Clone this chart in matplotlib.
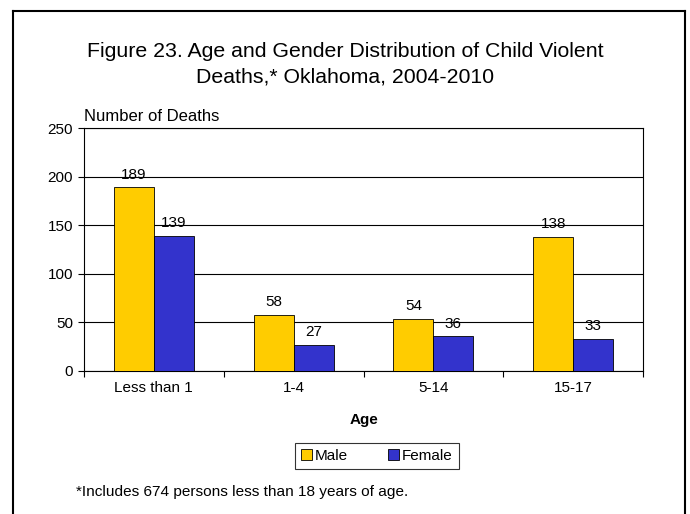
import numpy as np
import matplotlib.pyplot as plt

plt.rcParams['font.family'] = ['Liberation Sans', 'DejaVu Sans']

# donnees
ages = ['Less than 1', '1-4', '5-14', '15-17']
male = [189, 58, 54, 138]
female = [139, 27, 36, 33]
yticks = [0, 50, 100, 150, 200, 250]

fig = plt.figure(figsize=(6.9, 5.14), dpi=100)
W, H = 690, 514

# cadre autour de la figure (bas ouvert)
fig.add_artist(plt.Line2D([13 / W, 13 / W], [0, 1 - 11 / H], color='black', lw=1.5))
fig.add_artist(plt.Line2D([13 / W, 685 / W], [1 - 11 / H, 1 - 11 / H], color='black', lw=1.5))
fig.add_artist(plt.Line2D([685 / W, 685 / W], [0, 1 - 11 / H], color='black', lw=1.5))

ax = fig.add_axes([84 / W, 1 - 371 / H, (643 - 84) / W, (371 - 128) / H])

x = np.arange(len(ages))
w = 0.286
bars_m = ax.bar(x - w / 2, male, w, color='#FFCC00', edgecolor='black', linewidth=0.6, label='Male', zorder=3)
bars_f = ax.bar(x + w / 2, female, w, color='#3333CC', edgecolor='black', linewidth=0.6, label='Female', zorder=3)

# etiquettes des valeurs
for bars, vals in [(bars_m, male), (bars_f, female)]:
    for b, v in zip(bars, vals):
        ax.annotate(str(v), (b.get_x() + b.get_width() / 2, v), xytext=(0, 9),
                    textcoords='offset points', ha='center', va='center', fontsize=11, zorder=4)

ax.set_xlim(-0.5, len(ages) - 0.5)
ax.set_ylim(0, 250)
ax.set_yticks(yticks)
ax.yaxis.grid(True, color='black', lw=0.8, zorder=0)
ax.tick_params(axis='y', labelsize=11, length=4, width=0.8, pad=4)

# ticks x aux limites des categories, etiquettes au centre
ax.set_xticks(np.arange(len(ages) + 1) - 0.5)
ax.set_xticklabels([])
ax.set_xticks(x, minor=True)
ax.set_xticklabels(ages, minor=True, fontsize=11)
ax.tick_params(axis='x', which='major', length=4, width=0.8)
ax.tick_params(axis='x', which='minor', length=0, pad=7)

for s in ax.spines.values():
    s.set_linewidth(0.8)

ax.set_xlabel('Age', fontsize=11, fontweight='bold', labelpad=13)
ax.text(0, 1.015, 'Number of Deaths', transform=ax.transAxes, fontsize=12, ha='left', va='bottom')

fig.text(0.5, 1 - 64 / H, 'Figure 23. Age and Gender Distribution of Child Violent\nDeaths,* Oklahoma, 2004-2010',
         ha='center', va='center', fontsize=15.3, linespacing=1.42)

leg = fig.legend(loc='center', bbox_to_anchor=(377 / W, 1 - 456 / H), ncol=2, fontsize=11,
                 frameon=True, fancybox=False, edgecolor='black', handlelength=0.7, handleheight=0.7,
                 handletextpad=0.2, columnspacing=2.6, borderpad=0.4, borderaxespad=0)
leg.get_frame().set_linewidth(0.8)

fig.text(76 / W, 1 - 492 / H, '*Includes 674 persons less than 18 years of age.', fontsize=11.1, ha='left', va='center')

fig.savefig('out.png', dpi=100)
